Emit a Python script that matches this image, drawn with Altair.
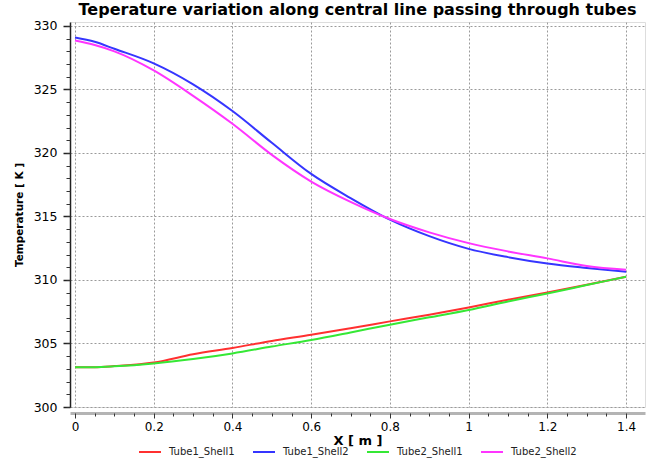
import altair as alt
import pandas as pd

# Position along the central line (m)
x_m = [0.0, 0.05, 0.1, 0.2, 0.3, 0.4, 0.5, 0.6, 0.7, 0.8, 0.9, 1.0, 1.1, 1.2, 1.3, 1.4]

# Temperatures (K) for each tube / shell combination
tube1_shell1 = [303.12, 303.13, 303.22, 303.50, 304.15, 304.65, 305.20, 305.68, 306.20,
                306.74, 307.27, 307.84, 308.45, 309.02, 309.62, 310.26]
tube1_shell2 = [329.09, 328.75, 328.20, 327.05, 325.40, 323.30, 320.80, 318.35, 316.45,
                314.75, 313.45, 312.45, 311.80, 311.30, 310.95, 310.65]
tube2_shell1 = [303.12, 303.13, 303.20, 303.43, 303.78, 304.22, 304.76, 305.28, 305.87,
                306.48, 307.06, 307.64, 308.31, 308.94, 309.60, 310.26]
tube2_shell2 = [328.85, 328.50, 328.00, 326.50, 324.50, 322.30, 319.85, 317.75, 316.15,
                314.80, 313.75, 312.90, 312.25, 311.70, 311.10, 310.80]

series = ["Tube1_Shell1", "Tube1_Shell2", "Tube2_Shell1", "Tube2_Shell2"]
colors = ["#ff3030", "#3535ff", "#35e835", "#ff35ff"]

x_major = [0, 0.2, 0.4, 0.6, 0.8, 1, 1.2, 1.4]
x_minor = [round(0.05 * i, 2) for i in range(29)]
y_major = [300, 305, 310, 315, 320, 325, 330]
y_minor = list(range(300, 331))

rows = []
for name, vals in zip(series, [tube1_shell1, tube1_shell2, tube2_shell1, tube2_shell2]):
    for x, t in zip(x_m, vals):
        rows.append({"X": x, "T": t, "Series": name})
df = pd.DataFrame(rows)

FONT = "DejaVu Sans"
xscale = alt.Scale(domain=[-0.0127, 1.448], nice=False, zero=False)
yscale = alt.Scale(domain=[300, 330.31], nice=False, zero=False)

lines = alt.Chart(df).mark_line(strokeWidth=2, interpolate="monotone").encode(
    x=alt.X("X:Q", scale=xscale, axis=alt.Axis(
        values=x_major, format="~g", orient="bottom", offset=6,
        title="X [ m ]", titleFont=FONT, titleFontSize=13, titleFontWeight="bold",
        titleColor="#000", titlePadding=2,
        labelFont=FONT, labelFontSize=12, labelColor="#000", labelPadding=3,
        domainColor="#b4b4b4", domainWidth=3, tickColor="#333", tickSize=5, tickWidth=1,
        grid=True, gridColor="#9a9a9a", gridDash=[2, 2], gridWidth=1)),
    y=alt.Y("T:Q", scale=yscale, axis=alt.Axis(
        values=y_major, orient="left",
        title="Temperature [ K ]", titleFont=FONT, titleFontSize=10.5, titleFontWeight="bold",
        titleColor="#000", titlePadding=9,
        labelFont=FONT, labelFontSize=12.5, labelColor="#000", labelPadding=6,
        domainColor="#222", domainWidth=1.5, tickColor="#222", tickSize=7, tickWidth=1.5,
        grid=True, gridColor="#9a9a9a", gridDash=[2, 2], gridWidth=1)),
    color=alt.Color("Series:N", scale=alt.Scale(domain=series, range=colors),
                    legend=alt.Legend(
                        orient="none", legendX=68, legendY=418, direction="horizontal",
                        title=None, symbolType="stroke", symbolStrokeWidth=2,
                        symbolSize=484, labelFont=FONT, labelFontSize=10,
                        labelColor="#222", columnPadding=14, labelOffset=7)),
)

# Minor ticks on both axes
minor = alt.Chart(df).mark_line(opacity=0).encode(
    x=alt.X("X:Q", scale=xscale, axis=alt.Axis(
        values=x_minor, orient="bottom", offset=6, labels=False, title=None,
        domain=False, grid=False, tickColor="#333", tickSize=3, tickWidth=1)),
    y=alt.Y("T:Q", scale=yscale, axis=alt.Axis(
        values=y_minor, orient="left", labels=False, title=None,
        domain=False, grid=False, tickColor="#333", tickSize=4, tickWidth=1)),
    detail="Series:N",
)

chart = alt.layer(lines, minor).resolve_axis(x="independent", y="independent").properties(
    width=575,
    height=385,
    padding={"left": 70, "top": 22, "right": 7, "bottom": 54},
    autosize=alt.AutoSizeParams(type="none"),
    title=alt.TitleParams(
        "Teperature variation along central line passing through tubes",
        font=FONT, fontSize=16, fontWeight="bold", color="#000",
        anchor="middle", offset=2),
).configure_view(stroke=None).configure(background="white")

chart.save("out.html", embed_options={"renderer": "svg", "actions": False})
